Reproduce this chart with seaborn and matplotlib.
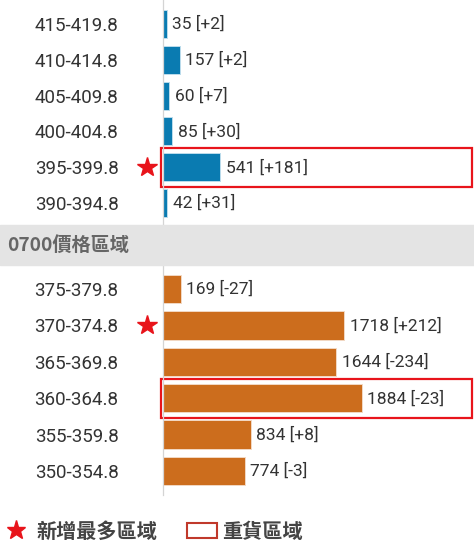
import matplotlib
matplotlib.use("Agg")
import pandas as pd
import seaborn as sns
import matplotlib.pyplot as plt
from matplotlib.patches import Rectangle
from matplotlib.lines import Line2D
from matplotlib.transforms import blended_transform_factory

# 上方價格區域
upper_ranges = ["415-419.8", "410-414.8", "405-409.8", "400-404.8", "395-399.8", "390-394.8"]
upper_qty = [35, 157, 60, 85, 541, 42]
upper_chg = [2, 2, 7, 30, 181, 31]

# 0700 價格區域以下
lower_ranges = ["375-379.8", "370-374.8", "365-369.8", "360-364.8", "355-359.8", "350-354.8"]
lower_qty = [169, 1718, 1644, 1884, 834, 774]
lower_chg = [-27, 212, -234, -23, 8, -3]

band_title = "0700價格區域"
legend_star = "新增最多區域"
legend_box = "重貨區域"

BLUE = "#0a7bb1"
ORANGE = "#cc6d1d"
RED = "#e8141b"
CJK = ["Noto Sans CJK TC", "DejaVu Sans"]

sns.set_style("white")
plt.rcParams["font.family"] = ["Roboto", "Noto Sans CJK TC", "DejaVu Sans"]

W, H = 474, 542
fig = plt.figure(figsize=(W / 100, H / 100), dpi=100)
X0 = 163      # axis line, px
XMAX = 2951   # value at right edge


def panel(ranges, qty, chg, color, top, bottom, c0, step):
    ax = fig.add_axes([X0 / W, 1 - bottom / H, 1 - X0 / W, (bottom - top) / H])
    df = pd.DataFrame({"range": ranges, "qty": qty, "chg": chg})
    sns.barplot(data=df, x="qty", y="range", orient="h", color=color, saturation=1,
                width=0.78, edgecolor="#f2d9c4" if color == ORANGE else "#bcdcec",
                linewidth=0.7, ax=ax)
    ax.set_xlim(0, XMAX)
    ax.set_ylim((bottom - c0) / step, (top - c0) / step)
    ax.set_xlabel("")
    ax.set_ylabel("")
    ax.set_xticks([])
    for s in ["top", "right", "bottom"]:
        ax.spines[s].set_visible(False)
    ax.spines["left"].set_color("#d4d4d4")
    ax.spines["left"].set_linewidth(0.9)
    ax.tick_params(axis="y", length=0, pad=32, labelsize=13.5, labelcolor="#333333")

    for i, (q, c) in enumerate(zip(qty, chg)):
        ax.annotate(f"{q} [{c:+d}]", (q, i), xytext=(4, 0), textcoords="offset points",
                    va="center", ha="left", fontsize=12.5, color="#333333")

    tr = blended_transform_factory(ax.transAxes, ax.transData)
    star_i = max(range(len(chg)), key=lambda k: chg[k])
    ax.plot([-16 / (W - X0)], [star_i], marker="*", ms=15, color=RED, mec=RED,
            transform=tr, clip_on=False)
    box_i = max(range(len(qty)), key=lambda k: qty[k])
    hh = 39 / step
    ax.add_patch(Rectangle((-2 / (W - X0), box_i - hh / 2), 311 / (W - X0), hh,
                           fill=False, ec=RED, lw=1.6, transform=tr, clip_on=False))
    return ax


panel(upper_ranges, upper_qty, upper_chg, BLUE, 0, 225, 24, 35.8)
panel(lower_ranges, lower_qty, lower_chg, ORANGE, 265, 495, 289, 36.4)

fig.patches.append(Rectangle((0, 1 - 265 / H), 1, 40 / H, transform=fig.transFigure,
                             color="#e4e4e4", zorder=0))
fig.text(7 / W, 1 - 245 / H, band_title, fontsize=13.8, fontweight="bold", color="#666666",
         va="center", ha="left", family=CJK)

handles = [
    Line2D([], [], ls="none", marker="*", ms=14, color=RED),
    Rectangle((0, 0), 1, 1, fc="white", ec="#c0392b", lw=1.5),
]
fig.legend(handles, [legend_star, legend_box], loc="center left",
           bbox_to_anchor=(-0.036, 1 - 531 / H), ncol=2, frameon=False,
           prop={"family": CJK, "size": 14.5, "weight": "bold"},
           handlelength=1.5, handletextpad=0.25, columnspacing=1.5,
           labelcolor="#444444")

fig.savefig("out.png", dpi=100)
